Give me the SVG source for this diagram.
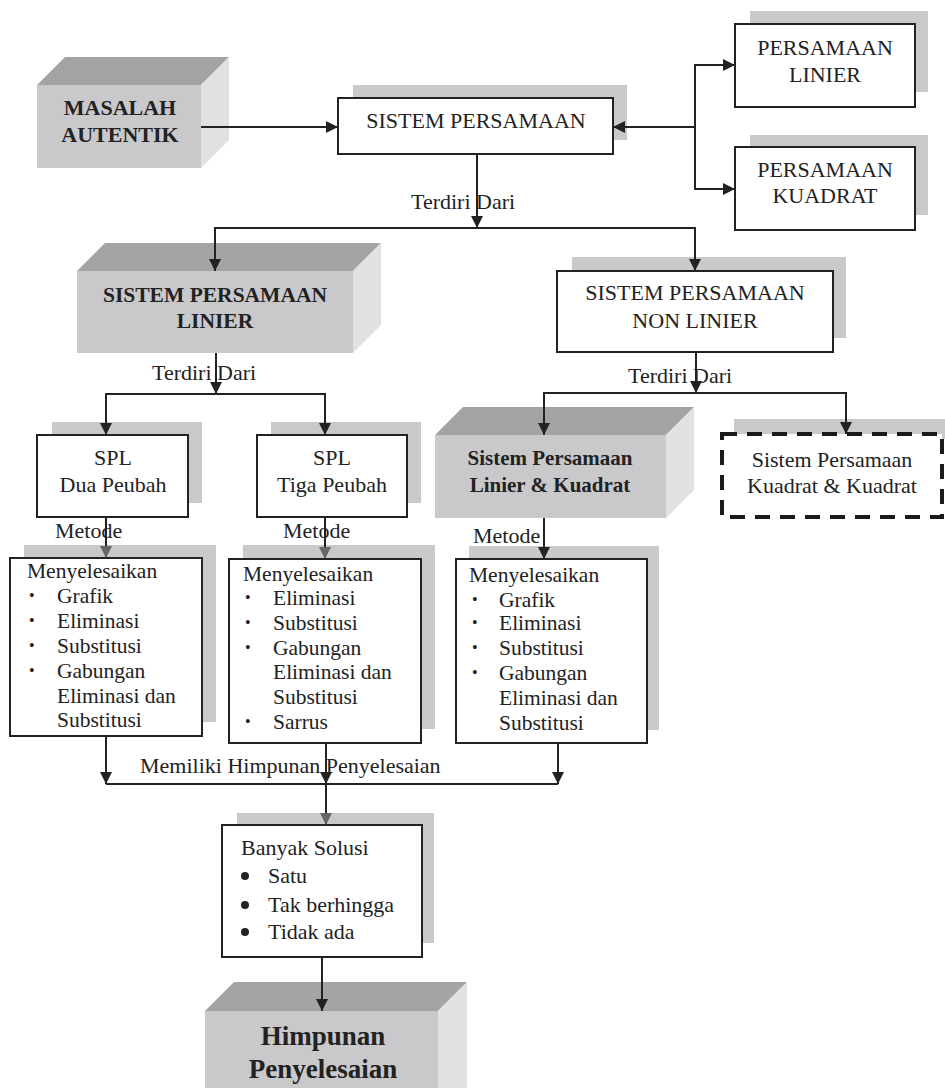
<svg xmlns="http://www.w3.org/2000/svg" width="945" height="1088" viewBox="0 0 945 1088" font-family="Liberation Serif, Times New Roman, Tinos, Noto Serif, serif">
<defs>
<style>
.sh{fill:#c9c9cb}
.bx{fill:#fff;stroke:#222;stroke-width:2}
.cf{fill:#c9c9cb}
.ct{fill:#a4a4a6}
.cr{fill:#e1e1e3}
text{fill:#222;font-size:22px}
.b{font-weight:bold}
.c{text-anchor:middle}
.l{font-size:21.5px}
.bu{font-size:16px}
.ln{fill:none;stroke:#222;stroke-width:2}
</style>
<marker id="ah" markerWidth="12" markerHeight="12" viewBox="0 0 12 12" refX="12" refY="6" orient="auto" markerUnits="userSpaceOnUse"><path d="M0,0 L12,6 L0,12 Z" fill="#222"/></marker>
<marker id="ag" markerWidth="12" markerHeight="12" viewBox="0 0 12 12" refX="12" refY="6" orient="auto" markerUnits="userSpaceOnUse"><path d="M0,0 L12,6 L0,12 Z" fill="#666"/></marker>
</defs>
<rect width="945" height="1088" fill="#fff"/>

<g id="masalah">
<polygon class="ct" points="37,85 65,57 229,57 201,85"/>
<polygon class="cr" points="201,85 229,57 229,140 201,168"/>
<rect class="cf" x="37" y="85" width="164" height="83"/>
<text class="b c" x="120" y="115">MASALAH</text>
<text class="b c" x="120" y="142">AUTENTIK</text>
</g>

<g id="sistem">
<rect class="sh" x="353" y="85" width="274" height="55"/>
<rect class="bx" x="338" y="98" width="275" height="56"/>
<text class="c" x="476" y="128">SISTEM PERSAMAAN</text>
</g>

<g id="pers-linier">
<rect class="sh" x="750" y="11" width="178" height="81"/>
<rect class="bx" x="735" y="24" width="180" height="83"/>
<text class="c" x="825" y="55">PERSAMAAN</text>
<text class="c" x="825" y="82">LINIER</text>
</g>

<g id="pers-kuadrat">
<rect class="sh" x="750" y="135" width="178" height="80"/>
<rect class="bx" x="735" y="147" width="180" height="83"/>
<text class="c" x="825" y="177">PERSAMAAN</text>
<text class="c" x="825" y="203">KUADRAT</text>
</g>

<g id="spl">
<polygon class="ct" points="77,271 105,243 381,243 353,271"/>
<polygon class="cr" points="353,271 381,243 381,325 353,353"/>
<rect class="cf" x="77" y="271" width="276" height="82"/>
<text class="b c" x="215" y="302" style="font-size:21.5px">SISTEM PERSAMAAN</text>
<text class="b c" x="215" y="328" style="font-size:21.5px">LINIER</text>
</g>

<g id="spnl">
<rect class="sh" x="572" y="257" width="274" height="81"/>
<rect class="bx" x="557" y="271" width="276" height="81"/>
<text class="c" x="695" y="300">SISTEM PERSAMAAN</text>
<text class="c" x="695" y="328">NON LINIER</text>
</g>

<g id="spl-dua">
<rect class="sh" x="52" y="422" width="150" height="81"/>
<rect class="bx" x="37" y="435" width="151" height="82"/>
<text class="c" x="113" y="465">SPL</text>
<text class="c" x="113" y="492">Dua Peubah</text>
</g>

<g id="spl-tiga">
<rect class="sh" x="271" y="422" width="150" height="81"/>
<rect class="bx" x="257" y="435" width="150" height="82"/>
<text class="c" x="332" y="465">SPL</text>
<text class="c" x="332" y="492">Tiga Peubah</text>
</g>

<g id="splk">
<polygon class="ct" points="435,435 463,407 694,407 666,435"/>
<polygon class="cr" points="666,435 694,407 694,490 666,518"/>
<rect class="cf" x="435" y="435" width="231" height="83"/>
<text class="b c" x="550" y="465" style="font-size:21px">Sistem Persamaan</text>
<text class="b c" x="550" y="492" style="font-size:21px">Linier &amp; Kuadrat</text>
</g>

<g id="spkk">
<rect class="sh" x="734" y="419" width="211" height="20"/>
<rect x="722" y="434" width="220" height="83" fill="#fff" stroke="#1a1a1a" stroke-width="4" stroke-dasharray="15,10"/>
<text class="c" x="832" y="467">Sistem Persamaan</text>
<text class="c" x="832" y="493">Kuadrat &amp; Kuadrat</text>
</g>

<g id="metode1">
<rect class="sh" x="24" y="545" width="192" height="177"/>
<rect class="bx" x="10" y="558" width="192" height="178"/>
<text class="l" x="27" y="578">Menyelesaikan</text>
<text class="bu" x="29" y="601">•</text><text class="l" x="57" y="603">Grafik</text>
<text class="bu" x="29" y="626">•</text><text class="l" x="57" y="628">Eliminasi</text>
<text class="bu" x="29" y="651">•</text><text class="l" x="57" y="653">Substitusi</text>
<text class="bu" x="29" y="676">•</text><text class="l" x="57" y="678">Gabungan</text>
<text class="l" x="57" y="703">Eliminasi dan</text>
<text class="l" x="57" y="727">Substitusi</text>
</g>

<g id="metode2">
<rect class="sh" x="243" y="545" width="192" height="184"/>
<rect class="bx" x="229" y="559" width="192" height="184"/>
<text class="l" x="243" y="581">Menyelesaikan</text>
<text class="bu" x="245" y="603">•</text><text class="l" x="273" y="605">Eliminasi</text>
<text class="bu" x="245" y="628">•</text><text class="l" x="273" y="630">Substitusi</text>
<text class="bu" x="245" y="653">•</text><text class="l" x="273" y="655">Gabungan</text>
<text class="l" x="273" y="679">Eliminasi dan</text>
<text class="l" x="273" y="704">Substitusi</text>
<text class="bu" x="245" y="727">•</text><text class="l" x="273" y="729">Sarrus</text>
</g>

<g id="metode3">
<rect class="sh" x="469" y="546" width="190" height="184"/>
<rect class="bx" x="456" y="559" width="191" height="184"/>
<text class="l" x="469" y="582">Menyelesaikan</text>
<text class="bu" x="472" y="605">•</text><text class="l" x="499" y="607">Grafik</text>
<text class="bu" x="472" y="628">•</text><text class="l" x="499" y="630">Eliminasi</text>
<text class="bu" x="472" y="653">•</text><text class="l" x="499" y="655">Substitusi</text>
<text class="bu" x="472" y="678">•</text><text class="l" x="499" y="680">Gabungan</text>
<text class="l" x="499" y="705">Eliminasi dan</text>
<text class="l" x="499" y="730">Substitusi</text>
</g>

<g id="banyak">
<rect class="sh" x="237" y="813" width="197" height="130"/>
<rect class="bx" x="222" y="825" width="200" height="132"/>
<text x="241" y="855">Banyak Solusi</text>
<circle cx="245" cy="876" r="4" fill="#222"/><text x="268" y="883">Satu</text>
<circle cx="245" cy="905" r="4" fill="#222"/><text x="268" y="912">Tak berhingga</text>
<circle cx="245" cy="932" r="4" fill="#222"/><text x="268" y="939">Tidak ada</text>
</g>

<g id="himpunan">
<polygon class="ct" points="205,1011 234,982 467,982 438,1011"/>
<polygon class="cr" points="438,1011 467,982 467,1088 438,1088"/>
<rect class="cf" x="205" y="1011" width="233" height="80"/>
<text class="b c" x="323" y="1045" style="font-size:27px">Himpunan</text>
<text class="b c" x="323" y="1078" style="font-size:27px">Penyelesaian</text>
</g>

<g id="connectors">
<line class="ln" x1="201" y1="127" x2="338" y2="127" marker-end="url(#ah)"/>
<line class="ln" x1="695" y1="127" x2="613" y2="127" marker-end="url(#ah)"/>
<polyline class="ln" points="735,65 695,65 695,189 735,189"/>
<line class="ln" x1="695" y1="65" x2="735" y2="65" marker-end="url(#ah)"/>
<line class="ln" x1="695" y1="189" x2="735" y2="189" marker-end="url(#ah)"/>
<line class="ln" x1="477" y1="154" x2="477" y2="228" marker-end="url(#ah)"/>
<polyline class="ln" points="215,271 215,228 695,228 695,271"/>
<line class="ln" x1="215" y1="228" x2="215" y2="271" marker-end="url(#ah)"/>
<line class="ln" x1="695" y1="228" x2="695" y2="271" marker-end="url(#ah)"/>
<line class="ln" x1="216" y1="353" x2="216" y2="394" marker-end="url(#ah)"/>
<polyline class="ln" points="106,435 106,394 325,394 325,435"/>
<line class="ln" x1="106" y1="394" x2="106" y2="435" marker-end="url(#ah)"/>
<line class="ln" x1="325" y1="394" x2="325" y2="435" marker-end="url(#ah)"/>
<line class="ln" x1="696" y1="352" x2="696" y2="393" marker-end="url(#ah)"/>
<polyline class="ln" points="544,435 544,393 846,393 846,434"/>
<line class="ln" x1="544" y1="393" x2="544" y2="435" marker-end="url(#ah)"/>
<line class="ln" x1="846" y1="393" x2="846" y2="434" marker-end="url(#ah)"/>
<line class="ln" x1="106" y1="517" x2="106" y2="558" marker-end="url(#ag)"/>
<line class="ln" x1="325" y1="517" x2="325" y2="559" marker-end="url(#ag)"/>
<line class="ln" x1="544" y1="518" x2="544" y2="559" marker-end="url(#ah)"/>
<line class="ln" x1="106" y1="736" x2="106" y2="784" marker-end="url(#ah)"/>
<line class="ln" x1="326" y1="743" x2="326" y2="784" marker-end="url(#ah)"/>
<line class="ln" x1="558" y1="743" x2="558" y2="784" marker-end="url(#ah)"/>
<line class="ln" x1="106" y1="784" x2="558" y2="784"/>
<line class="ln" x1="326" y1="784" x2="326" y2="825" marker-end="url(#ag)"/>
<line class="ln" x1="322" y1="957" x2="322" y2="1011" marker-end="url(#ah)"/>
</g>

<g id="labels">
<text x="411" y="209">Terdiri Dari</text>
<text x="152" y="380">Terdiri Dari</text>
<text x="628" y="383">Terdiri Dari</text>
<text x="55" y="538">Metode</text>
<text x="283" y="538">Metode</text>
<text x="473" y="543">Metode</text>
<text x="140" y="773">Memiliki Himpunan Penyelesaian</text>
</g>
</svg>
